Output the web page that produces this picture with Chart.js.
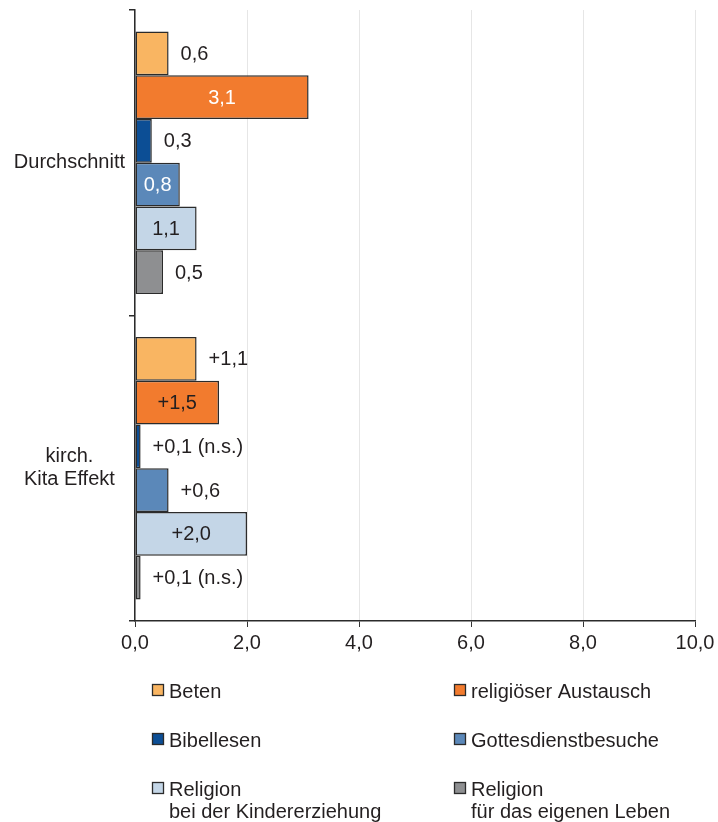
<!DOCTYPE html>
<html>
<head>
<meta charset="utf-8">
<script src="https://cdn.jsdelivr.net/npm/chart.js@4.4.1/dist/chart.umd.min.js"></script>
<style>
  html, body { margin: 0; padding: 0; background: #ffffff; }
  #wrap { width: 718px; height: 822px; position: relative; }
</style>
</head>
<body>
<div id="wrap"><canvas id="chart" width="718" height="822"></canvas></div>
<script>
// Kategorien (y-Achse)
const categories = ['Durchschnitt', ['kirch.', 'Kita Effekt']];

// Reihen
const seriesNames = [
  'Beten',
  'religiöser Austausch',
  'Bibellesen',
  'Gottesdienstbesuche',
  'Religion\nbei der Kindererziehung',
  'Religion\nfür das eigenen Leben'
];

// Werte je Reihe: [Durchschnitt, Effekt kirchliche Kita]
const beten           = [0.6, 1.1];
const austausch       = [3.1, 1.5];
const bibellesen      = [0.3, 0.1];
const gottesdienst    = [0.8, 0.6];
const kindererziehung = [1.1, 2.0];
const eigenesLeben    = [0.5, 0.1];

// Signifikanz des Kita-Effekts je Reihe (false = n.s.)
const signifikant = [true, true, false, true, true, false];

// Achsenskala
const xTicks = [0, 2, 4, 6, 8, 10];

// ---- Darstellung ----
const FONT = '"Liberation Sans", Arial, Helvetica, sans-serif';
const TEXT = '#231f20';
const fills = ['#f9b562', '#f27b2e', '#0c4e95', '#5b88b9', '#c4d6e7', '#8e8f91'];
const EDGE = '#2b2b2b';

// Beschriftung im Balken (Farbe) oder rechts daneben (null)
const labelInside = [
  [null, null],
  ['#ffffff', TEXT],
  [null, null],
  ['#ffffff', null],
  [TEXT, TEXT],
  [null, null]
];

const seriesValues = [beten, austausch, bibellesen, gottesdienst, kindererziehung, eigenesLeben];

const datasets = seriesValues.map((vals, i) => ({
  label: seriesNames[i],
  data: vals,
  backgroundColor: fills[i],
  borderColor: EDGE,
  borderWidth: 1.5,
  borderSkipped: false,
  categoryPercentage: 0.86,
  barPercentage: 1.0
}));

function fmt(v) {
  return v.toFixed(1).replace('.', ',');
}

// Wertebeschriftungen an den Balken
const valueLabels = {
  id: 'valueLabels',
  afterDatasetsDraw(chart) {
    const ctx = chart.ctx;
    ctx.save();
    ctx.font = '20px ' + FONT;
    ctx.textBaseline = 'middle';
    chart.data.datasets.forEach((ds, di) => {
      const meta = chart.getDatasetMeta(di);
      meta.data.forEach((bar, i) => {
        let txt = fmt(ds.data[i]);
        if (i === 1) {
          txt = '+' + txt;
          if (!signifikant[di]) txt += ' (n.s.)';
        }
        const inside = labelInside[di][i];
        if (inside) {
          ctx.fillStyle = inside;
          ctx.textAlign = 'center';
          ctx.fillText(txt, (bar.base + bar.x) / 2, bar.y + 1);
        } else {
          ctx.fillStyle = TEXT;
          ctx.textAlign = 'left';
          ctx.fillText(txt, bar.x + 12, bar.y + 1);
        }
      });
    });
    ctx.restore();
  }
};

// Legende in zwei Spalten unter dem Diagramm
const gridLegend = {
  id: 'gridLegend',
  afterDraw(chart, args, opts) {
    const ctx = chart.ctx;
    ctx.save();
    ctx.font = '20px ' + FONT;
    ctx.textBaseline = 'middle';
    ctx.textAlign = 'left';
    chart.data.datasets.forEach((ds, i) => {
      const col = i % 2;
      const row = Math.floor(i / 2);
      const bx = opts.columns[col];
      const cy = opts.rows[row];
      ctx.fillStyle = ds.backgroundColor;
      ctx.fillRect(bx, cy - 6, 12, 12);
      ctx.strokeStyle = ds.borderColor;
      ctx.lineWidth = 1.3;
      ctx.strokeRect(bx + 0.5, cy - 5.5, 11, 11);
      ctx.fillStyle = TEXT;
      ds.label.split('\n').forEach((line, k) => {
        ctx.fillText(line, bx + 17, cy + 2 + k * 22);
      });
    });
    ctx.restore();
  }
};

new Chart(document.getElementById('chart'), {
  type: 'bar',
  data: { labels: categories, datasets: datasets },
  plugins: [valueLabels, gridLegend],
  options: {
    indexAxis: 'y',
    responsive: false,
    devicePixelRatio: 1,
    animation: false,
    layout: { padding: { top: 10, right: 23, bottom: 161, left: 0 } },
    plugins: {
      legend: { display: false },
      tooltip: { enabled: false },
      gridLegend: { columns: [152, 454], rows: [690, 739, 788] }
    },
    scales: {
      x: {
        min: xTicks[0],
        max: xTicks[xTicks.length - 1],
        ticks: {
          stepSize: xTicks[1] - xTicks[0],
          color: TEXT,
          font: { size: 20, family: FONT },
          padding: 4,
          maxRotation: 0,
          callback: (v) => fmt(v)
        },
        grid: {
          color: '#e6e6e6',
          lineWidth: 1,
          tickColor: '#333333',
          tickLength: 6,
          drawTicks: true
        },
        border: { display: true, color: '#2b2b2b', width: 1.5 },
        afterFit(scale) {
          scale.height = 40;
          scale.paddingLeft = 0;
          scale.paddingRight = 0;
        }
      },
      y: {
        ticks: {
          color: TEXT,
          font: { size: 20, family: FONT, lineHeight: 1.15 },
          padding: 4,
          crossAlign: 'center'
        },
        grid: {
          offset: true,
          drawOnChartArea: false,
          drawTicks: true,
          tickLength: 6,
          color: '#2b2b2b',
          tickColor: '#2b2b2b',
          lineWidth: 1.5
        },
        border: { display: true, color: '#2b2b2b', width: 1.5 },
        afterFit(scale) {
          scale.width = 135;
          scale.paddingTop = 0;
          scale.paddingBottom = 0;
        }
      }
    }
  }
});
</script>
</body>
</html>
